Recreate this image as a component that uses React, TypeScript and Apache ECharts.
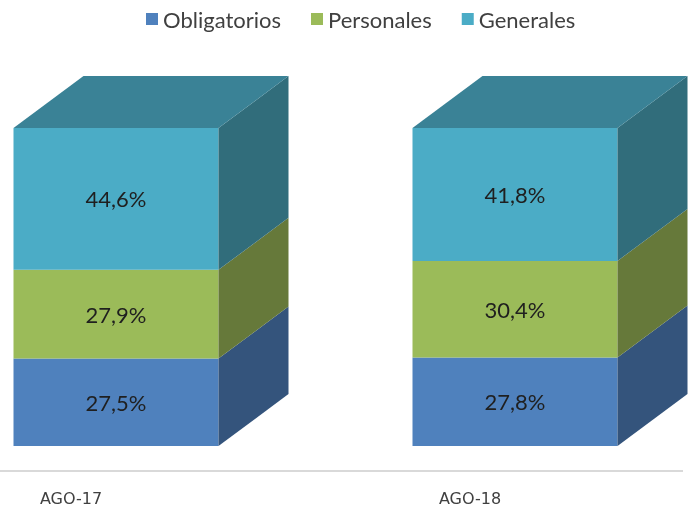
import React, { useEffect, useRef } from "react";
import * as echarts from "echarts";

const categories = ["AGO-17", "AGO-18"];
const seriesNames = ["Obligatorios", "Personales", "Generales"];
const obligatorios = [27.5, 27.8];
const personales = [27.9, 30.4];
const generales = [44.6, 41.8];

const frontColors = ["#4F81BD", "#9BBB59", "#4BACC6"];
const sideColors = ["#34547C", "#66793A", "#316D7B"];
const topColor = "#3A8296";

const BAR_W = 205;
const BAR_OFFSET = 45;
const DX = 70;
const DY = 52;

export default function App() {
  const ref = useRef<HTMLDivElement>(null);
  useEffect(() => {
    if (!ref.current) return;
    const chart = echarts.init(ref.current, undefined, { renderer: "svg" });
    const values = [obligatorios, personales, generales];
    const series = values.map((vals, s) => {
      const data = categories.map((_, i) => {
        let start = 0;
        for (let k = 0; k < s; k++) start += values[k][i];
        return [i, start, start + vals[i], vals[i]];
      });
      const isTop = s === values.length - 1;
      return {
        type: "custom",
        name: seriesNames[s],
        itemStyle: { color: frontColors[s] },
        clip: false,
        data,
        renderItem: (params: any, api: any) => {
          const cat = api.value(0);
          const p0 = api.coord([cat, api.value(1)]);
          const p1 = api.coord([cat, api.value(2)]);
          const xL = p0[0] + BAR_OFFSET - BAR_W / 2;
          const xR = xL + BAR_W;
          const yB = p0[1];
          const yT = p1[1];
          const children: any[] = [
            {
              type: "rect",
              shape: { x: xL, y: yT, width: BAR_W, height: yB - yT },
              style: { fill: frontColors[s] },
            },
            {
              type: "polygon",
              shape: {
                points: [
                  [xR, yB],
                  [xR + DX, yB - DY],
                  [xR + DX, yT - DY],
                  [xR, yT],
                ],
              },
              style: { fill: sideColors[s] },
            },
          ];
          if (isTop) {
            children.push({
              type: "polygon",
              shape: {
                points: [
                  [xL, yT],
                  [xL + DX, yT - DY],
                  [xR + DX, yT - DY],
                  [xR, yT],
                ],
              },
              style: { fill: topColor },
            });
          }
          children.push({
            type: "text",
            style: {
              text: api.value(3).toFixed(1).replace(".", ",") + "%",
              x: (xL + xR) / 2,
              y: (yT + yB) / 2,
              align: "center",
              verticalAlign: "middle",
              fill: "#1F1F1F",
              fontSize: 22,
              fontFamily: "Lato",
            },
          });
          return { type: "group", children };
        },
      };
    });

    chart.setOption({
      animation: false,
      legend: {
        top: 3,
        left: 141,
        icon: "rect",
        itemWidth: 12,
        itemHeight: 12,
        itemGap: 30,
        textStyle: { fontSize: 22, color: "#404040", fontFamily: "Lato" },
        data: seriesNames,
      },
      grid: { left: 71, right: 220, top: 128, bottom: 64 },
      xAxis: {
        type: "category",
        boundaryGap: false,
        data: categories,
        axisLine: { show: false },
        axisTick: { show: false },
        axisLabel: {
          margin: 44,
          fontSize: 16,
          color: "#404040",
          fontFamily: "DejaVu Sans",
        },
      },
      yAxis: { type: "value", min: 0, max: 100, show: false },
      graphic: [
        {
          type: "line",
          shape: { x1: 0, y1: 471, x2: 683, y2: 471 },
          style: { stroke: "#D9D9D9", lineWidth: 2 },
        },
      ],
      series,
    });
    return () => chart.dispose();
  }, []);
  return (
    <div
      ref={ref}
      style={{ position: "fixed", left: 0, top: 0, width: 690, height: 510 }}
    />
  );
}
